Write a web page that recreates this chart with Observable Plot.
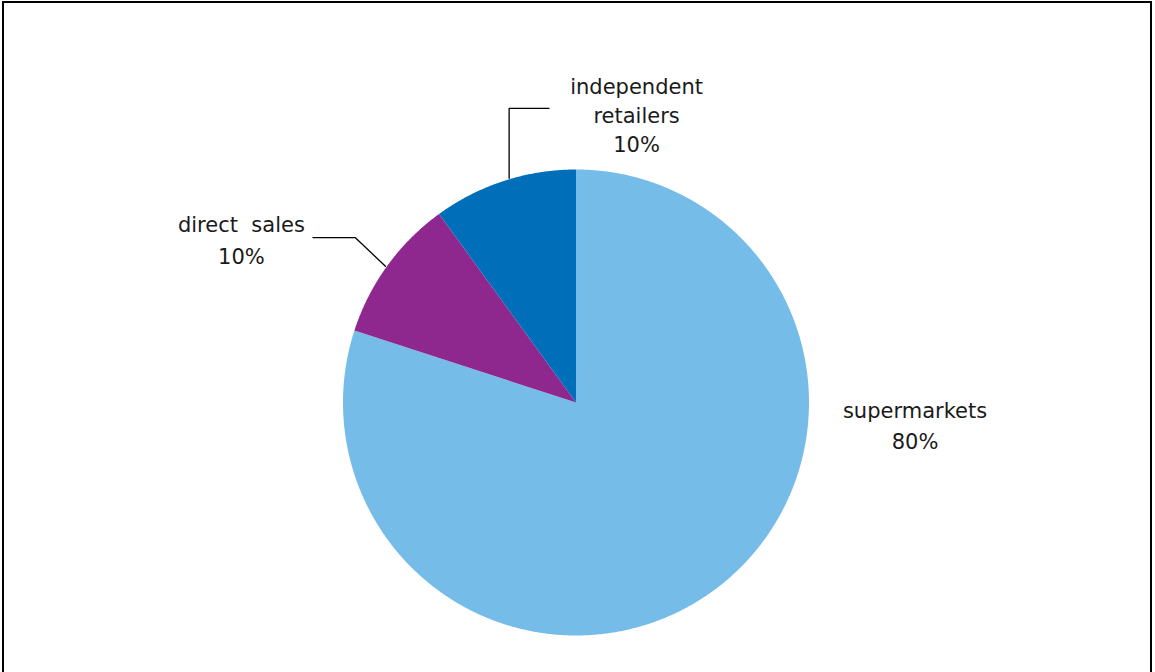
<!DOCTYPE html>
<html>
<head>
<meta charset="utf-8">
<script src="https://cdn.jsdelivr.net/npm/d3@7"></script>
<script src="https://cdn.jsdelivr.net/npm/@observablehq/plot@0.6"></script>
<style>
  html, body { margin: 0; padding: 0; background: #fff; }
  #wrap { position: relative; width: 1155px; height: 672px; overflow: hidden; }
  #border { position: absolute; left: 2px; top: 1px; width: 1150px; height: 700px;
            border: 2px solid #000; box-sizing: border-box; pointer-events: none; }
</style>
</head>
<body>
<div id="wrap"><div id="chart"></div><div id="border"></div></div>
<script>
// ---- data ----
const categories = ["supermarkets", "direct  sales", "independent\nretailers"];
const shares = [80, 10, 10];
const colors = ["#75BDE8", "#8E278E", "#006EB8"];

// ---- layout (unit-circle coordinates, radius = 1) ----
const W = 1155, H = 672, R = 233, CX = 575.5, CY = 402;
const labelPos = [[1.455, -0.09], [-1.436, 0.706], [0.26, 1.238]];
const labelLineHeight = [1.5, 1.5, 1.38];
const leaders = [
  [],
  [[-1.129, 0.708], [-0.948, 0.708], [-0.818, 0.585]],
  [[-0.116, 1.262], [-0.287, 1.262], [-0.287, 0.962]]
];

const pie = d3.pie().sort(null).value(d => d)(shares);
const polys = [];
pie.forEach((p, i) => {
  const n = Math.max(8, Math.ceil((p.endAngle - p.startAngle) / 0.005));
  polys.push({k: i, x: 0, y: 0});
  for (let j = 0; j <= n; j++) {
    const a = p.startAngle + (p.endAngle - p.startAngle) * j / n;
    polys.push({k: i, x: Math.sin(a), y: Math.cos(a)});
  }
  polys.push({k: i, x: 0, y: 0});
});
const labels = categories.map((c, i) => ({
  text: c + "\n" + shares[i] + "%", x: labelPos[i][0], y: labelPos[i][1], lh: labelLineHeight[i]
}));
const leaderPts = leaders.flatMap((pts, i) => pts.map(([x, y]) => ({k: i, x, y})));

const textMarks = labels.map(l =>
  Plot.text([l], {x: "x", y: "y", text: "text", fontSize: 21, lineHeight: l.lh,
                  fill: "#1a1a1a", textAnchor: "middle", fontWeight: "normal"}));

const chart = Plot.plot({
  width: W, height: H,
  margin: 0,
  x: {domain: [-CX / R, (W - CX) / R], range: [0, W], axis: null},
  y: {domain: [-(H - CY) / R, CY / R], range: [H, 0], axis: null},
  style: {fontFamily: "'DejaVu Sans', sans-serif", background: "#fff"},
  marks: [
    Plot.line(polys, {x: "x", y: "y", z: "k", fill: d => colors[d.k], stroke: "none", curve: "linear"}),
    Plot.line(leaderPts, {x: "x", y: "y", z: "k", stroke: "#000", strokeWidth: 1.3}),
    ...textMarks
  ]
});
chart.querySelectorAll("text").forEach(t => t.setAttribute("xml:space", "preserve"));
chart.querySelectorAll("text, tspan").forEach(t => t.style.whiteSpace = "pre");
document.getElementById("chart").appendChild(chart);
</script>
</body>
</html>
